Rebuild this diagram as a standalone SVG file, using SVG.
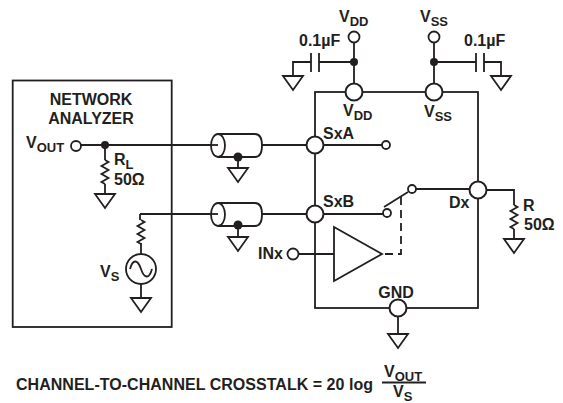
<svg xmlns="http://www.w3.org/2000/svg" width="563" height="403" viewBox="0 0 563 403">
<defs>
<style>
.l{fill:none;stroke:#231f20;stroke-width:1.8}
.o{fill:#fff;stroke:#231f20;stroke-width:1.8}
.p{fill:#fff;stroke:#231f20;stroke-width:2}
.d{fill:#231f20}
text{font-family:"Liberation Sans",Arial,sans-serif;font-weight:700;font-size:16px;fill:#231f20}
tspan{font-size:13px}
.m{text-anchor:middle}
</style>
<g id="gnd"><path class="l" d="M-10 0H10L0 14Z"/></g>
<g id="rv"><path class="l" d="M0 0L3.500 2L-3.500 6L3.500 10L-3.500 14L3.500 18L-3.500 22L0 24"/></g>
<g id="coax"><path class="l" d="M0 -11.500H37C42 -11.500 44 -6 44 0C44 6 42 11.500 37 11.500H0"/><ellipse class="l" cx="0" cy="0" rx="7" ry="11.500"/></g>
</defs>
<g id="connectors">
<path class="l" d="M81 145H210M262 145H382"/>
<path class="l" d="M105 145V160M105 184V194"/>
<path class="l" d="M141 243V254M140 214H210M140 214V220M141 284V298"/>
<path class="l" d="M262 214H383"/>
<path class="l" d="M238 157V168M238 225V237"/>
<path class="l" d="M354 42V84M434 42V84"/>
<path class="l" d="M354 62H319M311 62H293V76M434 62H476M484 62H501V76"/>
<path class="l" d="M311 53V72M319 53V72M476 53V72M484 53V72"/>
<path class="l" d="M384 207L408 192M416 189H470"/>
<path class="l" d="M486 190H514V205M514 229V239"/>
<path class="l" d="M298 254H334"/>
<path class="l" stroke-dasharray="8 5" d="M401 197V254H383"/>
<path class="l" d="M398 316V334"/>
</g>
<g id="analyzer">
<rect class="l" x="12.700" y="80.500" width="159" height="246.500"/>
<text class="m" x="91" y="105">NETWORK</text>
<text class="m" x="91" y="124">ANALYZER</text>
<text x="26" y="148">V<tspan dy="3.500">OUT</tspan></text>
<circle class="o" cx="76" cy="146" r="5"/>
<circle class="d" cx="105" cy="145" r="4"/>
<use href="#rv" x="105" y="160"/>
<text x="114" y="165">R<tspan dy="3.500">L</tspan></text>
<text x="114" y="185">50Ω</text>
<use href="#gnd" x="105" y="194"/>
<use href="#rv" x="141" y="220"/>
<text x="100" y="277">V<tspan dy="3.500">S</tspan></text>
<circle class="o" cx="141" cy="269" r="15"/>
<path class="l" d="M130 269C133 258 138 260 141 269C144 278 149 280 152 269"/>
<use href="#gnd" x="141" y="298"/>
</g>
<g id="coax1"><use href="#coax" x="218" y="145.500"/><path class="l" d="M210 145H218"/><circle class="d" cx="238" cy="157" r="4.500"/><use href="#gnd" x="238" y="168"/></g>
<g id="coax2"><use href="#coax" x="218" y="214.500"/><path class="l" d="M210 214H218"/><circle class="d" cx="238" cy="225" r="4.500"/><use href="#gnd" x="238" y="237"/></g>
<g id="chip">
<rect class="l" x="315" y="92" width="163" height="216"/>
<circle class="p" cx="354" cy="92" r="8.500"/>
<circle class="p" cx="434" cy="92" r="8.500"/>
<circle class="p" cx="315" cy="145" r="8.500"/>
<circle class="p" cx="315" cy="214" r="8.500"/>
<circle class="p" cx="478" cy="190" r="8.500"/>
<circle class="p" cx="398" cy="308" r="8.500"/>
<text x="323" y="139">SxA</text>
<text x="323" y="207">SxB</text>
<text x="449" y="208">Dx</text>
<text class="m" x="396" y="298">GND</text>
<text x="343" y="116">V<tspan dy="3.500">DD</tspan></text>
<text x="424" y="117">V<tspan dy="3.500">SS</tspan></text>
<use href="#gnd" x="398" y="334"/>
</g>
<g id="switch">
<circle class="o" cx="386" cy="145" r="4"/>
<circle class="o" cx="387" cy="213" r="4"/>
<circle class="o" cx="412" cy="189" r="4"/>
</g>
<g id="buffer">
<path class="o" d="M334 227V281L382 254Z"/>
<circle class="o" cx="293" cy="254" r="5.500"/>
<text x="258" y="259">INx</text>
</g>
<g id="vdd">
<circle class="o" cx="354" cy="37" r="5.500"/>
<circle class="d" cx="354" cy="62" r="4"/>
<text x="339" y="22">V<tspan dy="3.500">DD</tspan></text>
<text x="299" y="46">0.1µF</text>
<use href="#gnd" x="293" y="76"/>
</g>
<g id="vss">
<circle class="o" cx="434" cy="37" r="5.500"/>
<circle class="d" cx="434" cy="62" r="4"/>
<text x="420" y="22">V<tspan dy="3.500">SS</tspan></text>
<text x="464" y="46">0.1µF</text>
<use href="#gnd" x="501" y="76"/>
</g>
<g id="load">
<use href="#rv" x="514" y="205"/>
<text x="523" y="211">R</text>
<text x="524" y="230">50Ω</text>
<use href="#gnd" x="514" y="239"/>
</g>
<g id="formula">
<text x="16" y="390" textLength="357">CHANNEL-TO-CHANNEL CROSSTALK = 20 log</text>
<text x="384" y="377">V<tspan dy="3.500">OUT</tspan></text>
<path class="l" d="M382 382.500H426"/>
<text x="393" y="397">V<tspan dy="3.500">S</tspan></text>
</g>
</svg>
